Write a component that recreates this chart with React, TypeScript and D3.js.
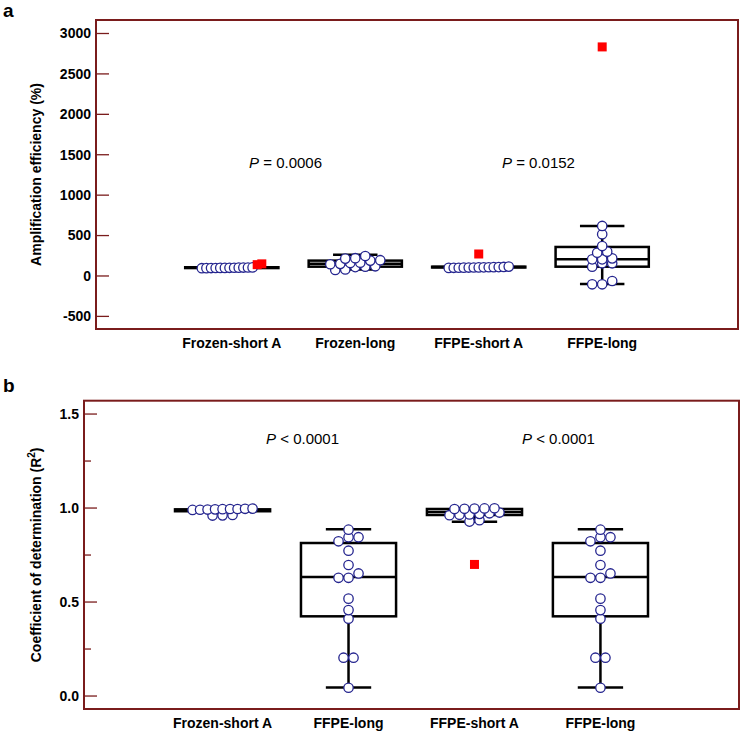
import React from 'react';
import * as d3 from 'd3';

// ---------- Panel a: amplification efficiency (%) ----------
const categoriesA = ['Frozen-short A', 'Frozen-long', 'FFPE-short A', 'FFPE-long'];
const effFrozenShort = [96, 97, 98, 99, 100, 100, 101, 102, 103, 104, 105, 106];
const effFrozenShortOut = [140, 150];
const effFrozenLong = [75, 80, 110, 115, 120, 145, 150, 160, 165, 190, 195, 215, 220, 247];
const effFrozenLongOut: number[] = [];
const effFfpeShort = [100, 101, 102, 103, 104, 105, 106, 107, 108, 109, 110, 112, 116];
const effFfpeShortOut = [272];
const effFfpeLong = [-103, -103, -62, 115, 157, 157, 206, 206, 218, 288, 301, 370, 516, 619];
const effFfpeLongOut = [2834];
// box stats: [whisker low, Q1, median, Q3, whisker high]
const boxEffFrozenShort = [98, 98, 103, 108, 108];
const boxEffFrozenLong = [80, 115, 150, 190, 264];
const boxEffFfpeShort = [105, 105, 110, 115, 115];
const boxEffFfpeLong = [-99, 115, 207, 359, 619];
const ticksA = [-500, 0, 500, 1000, 1500, 2000, 2500, 3000];
const pTextsA = ['= 0.0006', '= 0.0152'];

// ---------- Panel b: coefficient of determination (R^2) ----------
const categoriesB = ['Frozen-short A', 'FFPE-long', 'FFPE-short A', 'FFPE-long'];
const r2FrozenShort = [0.960, 0.961, 0.963, 0.990, 0.991, 0.992, 0.993, 0.994, 0.995, 0.995, 0.996, 0.997];
const r2FrozenShortOut: number[] = [];
const r2FfpeLong = [0.044, 0.204, 0.204, 0.411, 0.457, 0.518, 0.629, 0.629, 0.652, 0.697, 0.773, 0.823, 0.845, 0.845, 0.885];
const r2FfpeLongOut: number[] = [];
const r2FfpeShort = [0.928, 0.935, 0.962, 0.964, 0.966, 0.969, 0.972, 0.976, 0.995, 0.996, 0.997, 0.998, 0.999];
const r2FfpeShortOut = [0.70];
const boxR2FrozenShort = [0.983, 0.983, 0.989, 0.993, 0.993];
const boxR2FfpeLong = [0.046, 0.424, 0.633, 0.814, 0.887];
const boxR2FfpeShort = [0.927, 0.963, 0.979, 0.995, 0.997];
const ticksB = [0, 0.5, 1.0, 1.5];
const minorTicksB = [0.25, 0.75, 1.25];
const pTextsB = ['< 0.0001', '< 0.0001'];

const FONT = "'Liberation Sans', Arial, Helvetica, sans-serif";
const FRAME = '#7a1c1c';
const DOT = '#25258f';

type Group = { dots: number[]; out: number[]; box: number[] };

function swarm(group: Group, y: (v: number) => number, cx: number, maxSpan: number) {
  const pts = [
    ...group.dots.map((v) => ({ v, out: false })),
    ...group.out.map((v) => ({ v, out: true })),
  ].sort((a, b) => a.v - b.v);
  const rows: { v: number; out: boolean }[][] = [];
  let startY = NaN;
  pts.forEach((p) => {
    const py = y(p.v);
    if (rows.length && Math.abs(py - startY) < 5) rows[rows.length - 1].push(p);
    else {
      rows.push([p]);
      startY = py;
    }
  });
  const res: { x: number; y: number; out: boolean }[] = [];
  rows.forEach((row) => {
    const n = row.length;
    const s = n > 1 ? Math.min(10, maxSpan / (n - 1)) : 0;
    row.forEach((p, i) => res.push({ x: cx + (i - (n - 1) / 2) * s, y: y(p.v), out: p.out }));
  });
  return res;
}

type PanelProps = {
  letter: string;
  letterY: number;
  x0: number; x1: number; y0: number; y1: number;
  domain: [number, number];
  categories: string[];
  groups: Group[];
  ticks: number[];
  minor: number[];
  fmt: (v: number) => string;
  title: React.ReactNode;
  pTexts: string[];
  pValue: number;
  pDx: number[];
};

function Panel(p: PanelProps) {
  const x = d3.scalePoint<number>().domain(d3.range(p.categories.length)).range([p.x0, p.x1]).padding(1.1);
  const y = d3.scaleLinear().domain(p.domain).range([p.y1, p.y0]);
  const step = x.step();
  const bw = step * 0.755;
  const cw = step * 0.36;
  const midY = (p.y0 + p.y1) / 2;
  return (
    <g>
      <text x={3} y={p.letterY} fontSize={19} fontWeight="bold" fontFamily={FONT}>{p.letter}</text>
      <rect x={p.x0} y={p.y0} width={p.x1 - p.x0} height={p.y1 - p.y0} fill="none" stroke={FRAME} strokeWidth={2} />
      {p.ticks.map((t) => (
        <g key={'t' + t}>
          <line x1={p.x0} x2={p.x0 + 13} y1={y(t)} y2={y(t)} stroke={FRAME} strokeWidth={1.3} />
          <text x={p.x0 - 5} y={y(t)} dy="0.35em" textAnchor="end" fontSize={14} fontWeight="bold" fontFamily={FONT}>{p.fmt(t)}</text>
        </g>
      ))}
      {p.minor.map((t) => (
        <line key={'m' + t} x1={p.x0} x2={p.x0 + 7} y1={y(t)} y2={y(t)} stroke={FRAME} strokeWidth={1.3} />
      ))}
      <text transform={`translate(41,${midY}) rotate(-90)`} textAnchor="middle" fontSize={14} fontWeight="bold" fontFamily={FONT}>{p.title}</text>
      {p.categories.map((c, i) => (
        <text key={'c' + i} x={x(i)} y={p.y1 + 19} textAnchor="middle" fontSize={14} fontWeight="bold" fontFamily={FONT}>{c}</text>
      ))}
      {p.pTexts.map((t, i) => {
        const cx = ((x(i * 2) as number) + (x(i * 2 + 1) as number)) / 2 + p.pDx[i];
        return (
          <text key={'p' + i} x={cx} y={y(p.pValue)} dy="0.35em" textAnchor="middle" fontSize={15} fontFamily={FONT}>
            <tspan fontStyle="italic">P</tspan> {t}
          </text>
        );
      })}
      {p.groups.map((g, i) => {
        const cx = x(i) as number;
        const [lo, q1, med, q3, hi] = g.box;
        return (
          <g key={'b' + i} stroke="#000" strokeWidth={2.5} fill="none">
            <line x1={cx} x2={cx} y1={y(q3)} y2={y(hi)} />
            <line x1={cx} x2={cx} y1={y(q1)} y2={y(lo)} />
            {hi > q3 && <line x1={cx - cw / 2} x2={cx + cw / 2} y1={y(hi)} y2={y(hi)} />}
            {lo < q1 && <line x1={cx - cw / 2} x2={cx + cw / 2} y1={y(lo)} y2={y(lo)} />}
            <rect x={cx - bw / 2} y={y(q3)} width={bw} height={Math.max(0.1, y(q1) - y(q3))} />
            <line x1={cx - bw / 2} x2={cx + bw / 2} y1={y(med)} y2={y(med)} />
          </g>
        );
      })}
      {p.groups.map((g, i) => {
        const pts = swarm(g, y, x(i) as number, 60);
        return (
          <g key={'d' + i}>
            {pts.map((d, j) =>
              d.out ? (
                <rect key={j} x={d.x - 4.5} y={d.y - 4.5} width={9} height={9} fill="#ff0000" />
              ) : (
                <circle key={j} cx={d.x} cy={d.y} r={4.7} fill="#fff" stroke={DOT} strokeWidth={1.3} />
              )
            )}
          </g>
        );
      })}
    </g>
  );
}

export default function App() {
  const groupsA: Group[] = [
    { dots: effFrozenShort, out: effFrozenShortOut, box: boxEffFrozenShort },
    { dots: effFrozenLong, out: effFrozenLongOut, box: boxEffFrozenLong },
    { dots: effFfpeShort, out: effFfpeShortOut, box: boxEffFfpeShort },
    { dots: effFfpeLong, out: effFfpeLongOut, box: boxEffFfpeLong },
  ];
  const groupsB: Group[] = [
    { dots: r2FrozenShort, out: r2FrozenShortOut, box: boxR2FrozenShort },
    { dots: r2FfpeLong, out: r2FfpeLongOut, box: boxR2FfpeLong },
    { dots: r2FfpeShort, out: r2FfpeShortOut, box: boxR2FfpeShort },
    { dots: r2FfpeLong, out: r2FfpeLongOut, box: boxR2FfpeLong },
  ];
  return (
    <svg width={743} height={734} style={{ position: 'absolute', left: 0, top: 0, background: '#fff' }}>
      <Panel
        letter="a" letterY={17}
        x0={96} x1={738} y0={20} y1={329}
        domain={[-656, 3167]}
        categories={categoriesA}
        groups={groupsA}
        ticks={ticksA}
        minor={[]}
        fmt={(v) => String(v)}
        title="Amplification efficiency (%)"
        pTexts={pTextsA}
        pValue={1398}
        pDx={[-8, -2]}
      />
      <Panel
        letter="b" letterY={392}
        x0={84} x1={739} y0={400.7} y1={709}
        domain={[-0.069, 1.571]}
        categories={categoriesB}
        groups={groupsB}
        ticks={ticksB}
        minor={minorTicksB}
        fmt={d3.format('.1f')}
        title={<>Coefficient of determination (R<tspan dy="-6" fontSize={10}>2</tspan><tspan dy="6">)</tspan></>}
        pTexts={pTextsB}
        pValue={1.367}
        pDx={[17, 21]}
      />
    </svg>
  );
}
